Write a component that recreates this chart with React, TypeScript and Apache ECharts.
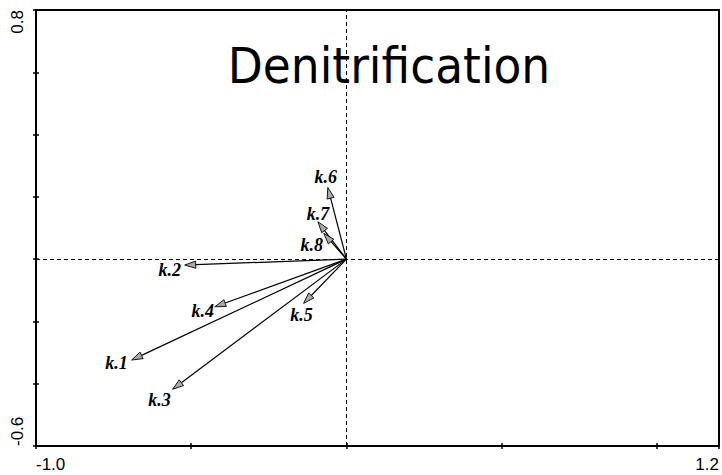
import React, { useEffect, useRef } from "react";
import * as echarts from "echarts";

// Loading vectors (biplot arrows) for the denitrification rate constants
const names = ["k.1", "k.2", "k.3", "k.4", "k.5", "k.6", "k.7", "k.8"];
const xs = [-0.692, -0.521, -0.56, -0.424, -0.138, -0.06, -0.092, -0.073];
const ys = [-0.324, -0.019, -0.418, -0.153, -0.142, 0.23, 0.12, 0.083];

const xMin = -1.0;
const xMax = 1.2;
const yMin = -0.6;
const yMax = 0.8;

const titleText = "Denitrification";

// label offsets (px) from each arrow tip
const labelOffset: Record<string, [number, number]> = {
  "k.1": [-15, 3],
  "k.2": [-15, 5],
  "k.3": [-13, 11],
  "k.4": [-12, 4],
  "k.5": [-2, 12],
  "k.6": [-2, -11],
  "k.7": [0, -8],
  "k.8": [-12, 12],
};

const near = (a: number, b: number) => Math.abs(a - b) < 1e-9;

export default function App() {
  const ref = useRef<HTMLDivElement>(null);

  useEffect(() => {
    document.body.style.margin = "0";
    if (!ref.current) return;
    const chart = echarts.init(ref.current, undefined, { renderer: "svg" });

    const data = names.map((n, i) => [xs[i], ys[i], i]);

    const headLen = 11;
    const headHalf = 3.6;

    const tickFont = { fontFamily: "Liberation Sans", fontSize: 17, color: "#000" };

    chart.setOption({
      animation: false,
      grid: {
        left: 36,
        top: 10,
        right: 2,
        bottom: 29,
        show: true,
        borderColor: "#000",
        borderWidth: 2,
      },
      xAxis: [
        {
          type: "value",
          min: xMin,
          max: xMax,
          interval: 0.5,
          splitLine: { show: false },
          axisLine: { show: true, onZero: false, lineStyle: { color: "#000", width: 2 } },
          axisTick: { show: true, length: 3, lineStyle: { color: "#000", width: 1.5 } },
          axisLabel: {
            ...tickFont,
            margin: 10,
            showMinLabel: true,
            showMaxLabel: true,
            alignMinLabel: "left",
            alignMaxLabel: "right",
            formatter: (v: number) => (near(v, xMin) || near(v, xMax) ? v.toFixed(1) : ""),
          },
        },
        {
          type: "value",
          position: "bottom",
          min: xMin,
          max: xMax,
          interval: 0.5,
          splitLine: { show: false },
          axisLine: { show: false, onZero: false },
          axisTick: { show: true, inside: true, length: 3, lineStyle: { color: "#000", width: 1.5 } },
          axisLabel: { show: false },
        },
      ],
      yAxis: [
        {
          type: "value",
          min: yMin,
          max: yMax,
          interval: 0.2,
          splitLine: { show: false },
          axisLine: { show: true, onZero: false, lineStyle: { color: "#000", width: 2 } },
          axisTick: { show: true, length: 3, lineStyle: { color: "#000", width: 1.5 } },
          axisLabel: {
            ...tickFont,
            margin: 10,
            rotate: 90,
            showMinLabel: true,
            showMaxLabel: true,
            alignMinLabel: "left",
            alignMaxLabel: "right",
            formatter: (v: number) => (near(v, yMin) || near(v, yMax) ? v.toFixed(1) : ""),
          },
        },
        {
          type: "value",
          position: "left",
          min: yMin,
          max: yMax,
          interval: 0.2,
          splitLine: { show: false },
          axisLine: { show: false, onZero: false },
          axisTick: { show: true, inside: true, length: 3, lineStyle: { color: "#000", width: 1.5 } },
          axisLabel: { show: false },
        },
      ],
      graphic: [
        {
          type: "text",
          x: 389,
          y: 66,
          scaleX: 0.91,
          originX: 0,
          originY: 0,
          z: 10,
          style: {
            text: titleText,
            fill: "#000",
            font: '50px "DejaVu Sans"',
            align: "center",
            verticalAlign: "middle",
          },
        },
      ],
      series: [
        {
          type: "custom",
          coordinateSystem: "cartesian2d",
          xAxisIndex: 0,
          yAxisIndex: 0,
          data,
          encode: { x: 0, y: 1 },
          markLine: {
            silent: true,
            symbol: ["none", "none"],
            label: { show: false },
            lineStyle: { color: "#000", width: 1, type: [4, 3] },
            data: [{ xAxis: 0 }, { yAxis: 0 }],
          },
          renderItem: (params: any, api: any) => {
            const idx = api.value(2);
            const name = names[idx];
            const o = api.coord([0, 0]);
            const t = api.coord([api.value(0), api.value(1)]);
            const dx = t[0] - o[0];
            const dy = t[1] - o[1];
            const len = Math.sqrt(dx * dx + dy * dy) || 1;
            const ux = dx / len;
            const uy = dy / len;
            const bx = t[0] - ux * headLen;
            const by = t[1] - uy * headLen;
            const nx = -uy;
            const ny = ux;
            const off = labelOffset[name] || [0, 0];
            return {
              type: "group",
              children: [
                {
                  type: "line",
                  shape: { x1: o[0], y1: o[1], x2: bx, y2: by },
                  style: { stroke: "#000", lineWidth: 1.2 },
                },
                {
                  type: "polygon",
                  shape: {
                    points: [
                      [t[0], t[1]],
                      [bx + nx * headHalf, by + ny * headHalf],
                      [bx - nx * headHalf, by - ny * headHalf],
                    ],
                  },
                  style: { fill: "#a9a9a9", stroke: "#000", lineWidth: 0.9 },
                },
                {
                  type: "text",
                  x: t[0] + off[0],
                  y: t[1] + off[1],
                  style: {
                    text: name,
                    fill: "#000",
                    font: 'italic bold 18px "Liberation Serif"',
                    align: "center",
                    verticalAlign: "middle",
                  },
                },
              ],
            };
          },
        },
      ],
    });

    return () => chart.dispose();
  }, []);

  return <div ref={ref} style={{ width: 722, height: 475 }} />;
}
